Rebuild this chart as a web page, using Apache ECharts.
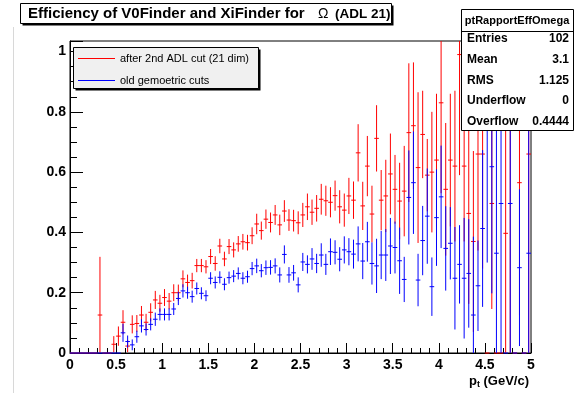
<!DOCTYPE html>
<html>
<head>
<meta charset="utf-8">
<script src="https://cdn.jsdelivr.net/npm/echarts@6/dist/echarts.min.js"></script>
<style>
html,body{margin:0;padding:0;background:#fff;}
#c{width:574px;height:393px;}
</style>
</head>
<body>
<div id="c"></div>
<script>
// Histogram binning
const nBins = 100, xMin = 0, xMax = 5;
const yMin = 0, yMax = 1.035;
const xTickLabels = ['0','0.5','1','1.5','2','2.5','3','3.5','4','4.5','5'];
const yTickLabels = ['0','0.2','0.4','0.6','0.8','1'];

// "after 2nd ADL cut (21 dim)" efficiency per bin
const redValues = [
 0,0,0,0,0,0,0.126,0,0,0.029,
 0.056,0.102,0.023,0.095,0.098,0.126,0.102,0.135,0.176,0.165,
 0.184,0.172,0.200,0.200,0.246,0.234,0.240,0.290,0.290,0.286,
 0.320,0.297,0.355,0.312,0.353,0.342,0.362,0.369,0.366,0.389,
 0.428,0.406,0.444,0.433,0.458,0.425,0.471,0.441,0.439,0.432,
 0.458,0.485,0.467,0.480,0.510,0.505,0.500,0.522,0.485,0.474,
 0.521,0.507,0.664,0.488,0.620,0.461,0.712,0.507,0.521,0.594,
 0.543,0.504,0.537,0.731,0.754,0.615,0.725,0.590,0.600,0.640,
 0.830,0.543,0.640,0.620,0.990,0.620,0.463,0.370,0.660,0.660,
 0,0.496,0,0,0.397,1.0,0,0.565,0,0.660
];
const redErrors = [
 0,0,0,0,0,0,0.193,0,0,0.027,
 0.032,0.040,0.020,0.030,0.028,0.030,0.028,0.030,0.030,0.028,
 0.028,0.027,0.028,0.027,0.028,0.026,0.026,0.022,0.022,0.022,
 0.025,0.024,0.024,0.024,0.025,0.025,0.026,0.026,0.026,0.028,
 0.034,0.030,0.032,0.033,0.033,0.034,0.036,0.036,0.036,0.038,
 0.040,0.044,0.042,0.044,0.051,0.050,0.050,0.050,0.055,0.055,
 0.060,0.062,0.095,0.080,0.100,0.094,0.110,0.100,0.120,0.134,
 0.114,0.127,0.150,0.230,0.210,0.250,0.145,0.120,0.200,0.220,
 0.300,0.220,0.220,0.250,0.400,0.250,0.300,0.300,0.320,0.380,
 0,0.350,0,0,0.650,1.0,0,0.440,0,0.700
];
// "old gemoetric cuts" efficiency per bin
const blueValues = [
 0,0,0,0,0,0,0,0,0,0,
 0,0.067,0.038,0.027,0.054,0.090,0.078,0.095,0.112,0.128,
 0.128,0.128,0.146,0.181,0.206,0.200,0.187,0.214,0.198,0.190,
 0.248,0.234,0.251,0.228,0.250,0.255,0.264,0.248,0.253,0.280,
 0.289,0.273,0.283,0.284,0.289,0.259,0.327,0.259,0.266,0.226,
 0.302,0.294,0.312,0.297,0.325,0.294,0.336,0.334,0.311,0.342,
 0.336,0.328,0.362,0.305,0.369,0.297,0.289,0.325,0.325,0.355,
 0.350,0.306,0.244,0.516,0.565,0.242,0.373,0.454,0.220,0.449,
 0.518,0.347,0.364,0.248,0.294,0.248,0.264,0.126,0.223,0.413,
 0.850,0.618,0.331,0.496,0,0.496,0,0.283,0,0.331
];
const blueErrors = [
 0,0,0,0,0,0,0,0,0,0,
 0,0.030,0.020,0.018,0.020,0.022,0.020,0.020,0.022,0.020,
 0.020,0.020,0.020,0.022,0.022,0.020,0.020,0.020,0.020,0.018,
 0.020,0.020,0.020,0.020,0.020,0.020,0.020,0.020,0.020,0.022,
 0.024,0.022,0.024,0.024,0.025,0.025,0.030,0.026,0.026,0.025,
 0.030,0.030,0.036,0.032,0.039,0.035,0.044,0.040,0.040,0.045,
 0.045,0.048,0.058,0.060,0.066,0.070,0.090,0.080,0.086,0.093,
 0.086,0.110,0.075,0.156,0.170,0.087,0.115,0.158,0.097,0.160,
 0.170,0.140,0.120,0.170,0.130,0.200,0.180,0.260,0.150,0.260,
 0.550,0.420,0.450,0.550,0,0.550,0,0.260,0,0.700
];

const binWidth = (xMax - xMin) / nBins;
const binCenters = redValues.map((_, i) => xMin + binWidth * (i + 0.5));

function makeData(vals, errs) {
  return vals.map((v, i) => [binCenters[i], v, errs[i]]);
}

function errRenderer(color) {
  return function (params, api) {
    const x = api.value(0), v = api.value(1), e = api.value(2);
    const style = { stroke: color, lineWidth: 1 };
    const children = [];
    if (v >= yMin && v <= yMax) {
      const pL = api.coord([x - binWidth / 2, v]);
      const pR = api.coord([x + binWidth / 2, v]);
      children.push({ type: 'line', shape: { x1: pL[0], y1: pL[1], x2: pR[0], y2: pR[1] }, style });
    }
    if (e > 0) {
      const hi = Math.min(yMax, v + e), lo = Math.max(yMin, v - e);
      const pT = api.coord([x, hi]), pB = api.coord([x, lo]);
      children.push({ type: 'line', shape: { x1: pT[0], y1: pT[1], x2: pB[0], y2: pB[1] }, style });
    }
    return { type: 'group', children };
  };
}

const FONT = "'Liberation Sans', Arial, Helvetica, sans-serif";
const chart = echarts.init(document.getElementById('c'), null, { renderer: 'canvas' });

chart.setOption({
  animation: false,
  backgroundColor: '#ffffff',
  grid: { left: 70, right: 43, top: 41, bottom: 40, show: true, borderColor: '#000', borderWidth: 1, backgroundColor: '#fff' },
  xAxis: {
    type: 'value', min: xMin, max: xMax, interval: 0.5,
    axisLine: { show: true, lineStyle: { color: '#000', width: 1 } },
    axisTick: { show: true, inside: true, length: 10, lineStyle: { color: '#000' } },
    minorTick: { show: true, splitNumber: 5, length: 5, lineStyle: { color: '#000' } },
    splitLine: { show: false },
    axisLabel: {
      color: '#000', fontFamily: FONT, fontWeight: 'bold', fontSize: 14, margin: 5,
      formatter: v => xTickLabels[Math.round(v / 0.5)] || ''
    }
  },
  yAxis: {
    type: 'value', min: yMin, max: yMax, interval: 0.2,
    axisLine: { show: true, lineStyle: { color: '#000', width: 1 } },
    axisTick: { show: true, inside: true, length: 13, lineStyle: { color: '#000' } },
    minorTick: { show: true, splitNumber: 4, length: 7, lineStyle: { color: '#000' } },
    splitLine: { show: false },
    axisLabel: {
      color: '#000', fontFamily: FONT, fontWeight: 'bold', fontSize: 14, margin: 4,
      formatter: v => {
        const k = Math.round(v / 0.2);
        return Math.abs(v - k * 0.2) < 1e-6 ? (yTickLabels[k] || '') : '';
      }
    }
  },
  series: [
    { type: 'custom', name: 'after 2nd ADL cut (21 dim)', renderItem: errRenderer('#ff0000'),
      data: makeData(redValues, redErrors), encode: { x: 0, y: 1 }, z: 3 },
    { type: 'custom', name: 'old gemoetric cuts', renderItem: errRenderer('#0000ff'),
      data: makeData(blueValues, blueErrors), encode: { x: 0, y: 1 }, z: 4 }
  ],
  graphic: [
    // faint canvas edge line
    { type: 'line', z: 1, shape: { x1: 13.5, y1: 27, x2: 13.5, y2: 393 }, style: { stroke: '#d8d8d8', lineWidth: 1 } },
    // title box
    { type: 'rect', z: 50, shape: { x: 22.5, y: 5.5, width: 371, height: 20 }, style: { fill: '#000' } },
    { type: 'rect', z: 51, shape: { x: 20.5, y: 3.5, width: 371, height: 20 }, style: { fill: '#fff', stroke: '#000', lineWidth: 1 } },
    { type: 'text', z: 52, style: { x: 28, y: 14, text: 'Efficiency of V0Finder and XiFinder for', font: "bold 15px " + FONT, fill: '#000', textVerticalAlign: 'middle' } },
    { type: 'text', z: 52, style: { x: 318, y: 14, text: 'Ω', font: "14px " + FONT, fill: '#000', textVerticalAlign: 'middle' } },
    { type: 'text', z: 52, style: { x: 335, y: 14, text: '(ADL 21)', font: "bold 13.5px " + FONT, fill: '#000', textVerticalAlign: 'middle' } },
    // legend
    { type: 'rect', z: 50, shape: { x: 75.5, y: 49.5, width: 185, height: 41 }, style: { fill: '#000' } },
    { type: 'rect', z: 51, shape: { x: 73.5, y: 47.5, width: 185, height: 41 }, style: { fill: '#f0f0f0', stroke: '#000', lineWidth: 1 } },
    { type: 'line', z: 52, shape: { x1: 78, y1: 58.5, x2: 115, y2: 58.5 }, style: { stroke: '#ff0000', lineWidth: 1 } },
    { type: 'text', z: 52, style: { x: 120, y: 58.5, text: 'after 2nd ADL cut (21 dim)', font: "11px " + FONT, fill: '#000', textVerticalAlign: 'middle' } },
    { type: 'line', z: 52, shape: { x1: 78, y1: 80.5, x2: 115, y2: 80.5 }, style: { stroke: '#0000ff', lineWidth: 1 } },
    { type: 'text', z: 52, style: { x: 120, y: 80.5, text: 'old gemoetric cuts', font: "11px " + FONT, fill: '#000', textVerticalAlign: 'middle' } },
    // stats box
    { type: 'rect', z: 51, shape: { x: 461.5, y: 9.5, width: 112, height: 121 }, style: { fill: '#fff', stroke: '#000', lineWidth: 1 } },
    { type: 'line', z: 52, shape: { x1: 461.5, y1: 31.5, x2: 573.5, y2: 31.5 }, style: { stroke: '#000', lineWidth: 1 } },
    { type: 'text', z: 52, style: { x: 517, y: 20.5, text: 'ptRapportEffOmega', font: "bold 11px " + FONT, fill: '#000', textAlign: 'center', textVerticalAlign: 'middle' } },
    { type: 'text', z: 52, style: { x: 467, y: 39, text: 'Entries', font: "bold 12px " + FONT, fill: '#000', textVerticalAlign: 'middle' } },
    { type: 'text', z: 52, style: { x: 569, y: 39, text: '102', font: "bold 12px " + FONT, fill: '#000', textAlign: 'right', textVerticalAlign: 'middle' } },
    { type: 'text', z: 52, style: { x: 467, y: 60, text: 'Mean', font: "bold 12px " + FONT, fill: '#000', textVerticalAlign: 'middle' } },
    { type: 'text', z: 52, style: { x: 569, y: 60, text: '3.1', font: "bold 12px " + FONT, fill: '#000', textAlign: 'right', textVerticalAlign: 'middle' } },
    { type: 'text', z: 52, style: { x: 467, y: 81, text: 'RMS', font: "bold 12px " + FONT, fill: '#000', textVerticalAlign: 'middle' } },
    { type: 'text', z: 52, style: { x: 569, y: 81, text: '1.125', font: "bold 12px " + FONT, fill: '#000', textAlign: 'right', textVerticalAlign: 'middle' } },
    { type: 'text', z: 52, style: { x: 467, y: 101, text: 'Underflow', font: "bold 12px " + FONT, fill: '#000', textVerticalAlign: 'middle' } },
    { type: 'text', z: 52, style: { x: 569, y: 101, text: '0', font: "bold 12px " + FONT, fill: '#000', textAlign: 'right', textVerticalAlign: 'middle' } },
    { type: 'text', z: 52, style: { x: 467, y: 122, text: 'Overflow', font: "bold 12px " + FONT, fill: '#000', textVerticalAlign: 'middle' } },
    { type: 'text', z: 52, style: { x: 569, y: 122, text: '0.4444', font: "bold 12px " + FONT, fill: '#000', textAlign: 'right', textVerticalAlign: 'middle' } },
    // x axis title
    { type: 'text', z: 52, style: { x: 529, y: 381, text: '{p|p}{s|t}{p| (GeV/c)}', textAlign: 'right', textVerticalAlign: 'middle',
      rich: { p: { font: "bold 13px " + FONT, fill: '#000' }, s: { font: "bold 9px " + FONT, fill: '#000', padding: [8, 0, 0, 0] } } } }
  ]
});
</script>
</body>
</html>
